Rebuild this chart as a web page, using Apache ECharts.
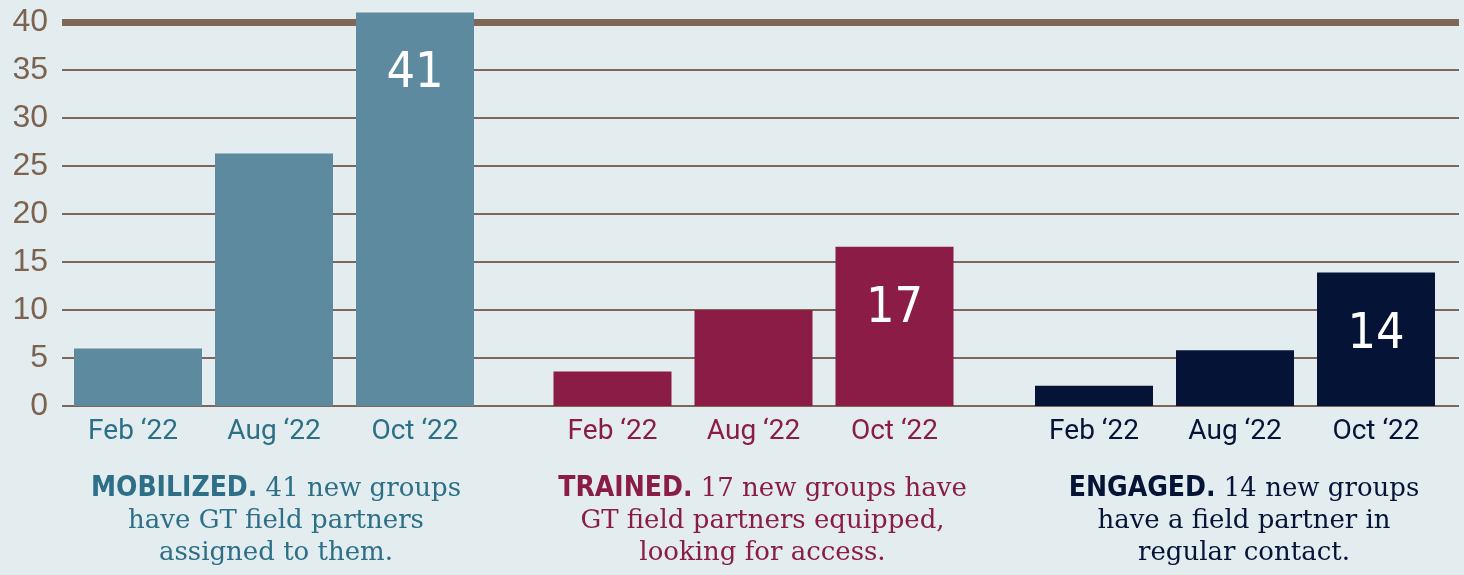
<!DOCTYPE html>
<html>
<head>
<meta charset="utf-8">
<script src="https://cdn.jsdelivr.net/npm/echarts@6/dist/echarts.min.js"></script>
<style>
  html, body { margin: 0; padding: 0; background: #e3ecef; }
  #chart { width: 1464px; height: 575px; }
</style>
</head>
<body>
<div id="chart"></div>
<script>
var months = ['Feb \u201822', 'Aug \u201822', 'Oct \u201822'];
var mobilized = [6, 26.3, 41];
var trained = [3.6, 10, 16.6];
var engaged = [2.1, 5.8, 13.9];
var totals = [41, 17, 14];
var yTicks = [0, 5, 10, 15, 20, 25, 30, 35, 40];

var captions = [
  '{h|MOBILIZED.} 41 new groups\nhave GT field partners\nassigned to them.',
  '{h|TRAINED.} 17 new groups have\nGT field partners equipped,\nlooking for access.',
  '{h|ENGAGED.} 14 new groups\nhave a field partner in\nregular contact.'
];
var colors = ['#5d8a9e', '#8a1c45', '#051337'];
var labelColors = ['#2c6f87', '#8a1c45', '#051337'];
var captionShift = [4, 18, 18];

var chart = echarts.init(document.getElementById('chart'));

var brown = '#7e6757';
var serif = '"DejaVu Serif", "Liberation Serif", serif';
var narrow = '"Liberation Sans Narrow", "DejaVu Sans Condensed", sans-serif';

function barAxis(i) {
  return {
    type: 'category',
    gridIndex: i + 1,
    data: months,
    axisLine: { show: false },
    axisTick: { show: false },
    axisLabel: {
      color: labelColors[i],
      fontSize: 28,
      fontFamily: 'Roboto, sans-serif',
      margin: 12
    },
    name: captions[i],
    nameLocation: 'middle',
    nameGap: 67,
    nameTextStyle: {
      color: labelColors[i],
      fontFamily: serif,
      fontSize: 26,
      lineHeight: 32,
      align: 'center',
      padding: [0, 0, 0, captionShift[i]],
      rich: {
        h: {
          fontFamily: narrow,
          fontWeight: 'bold',
          fontSize: 28,
          lineHeight: 32,
          color: labelColors[i]
        }
      }
    }
  };
}

function hiddenY(i) {
  return {
    type: 'value',
    gridIndex: i + 1,
    min: 0,
    max: 40,
    interval: 5,
    show: false
  };
}

var valueLabel = {
  show: true,
  position: 'insideTop',
  distance: 37,
  color: '#ffffff',
  fontFamily: narrow,
  fontSize: 50,
  formatter: function (p) {
    return totals[p.seriesIndex <= 1 ? 0 : p.seriesIndex - 1];
  }
};

function withLabel(arr) {
  return arr.map(function (v, k) {
    if (k === arr.length - 1) return { value: v, label: valueLabel };
    return v;
  });
}

var option = {
  backgroundColor: '#e3ecef',
  animation: false,
  grid: [
    { left: 62, right: 5, top: 22, bottom: 169 },
    { left: 62.5, width: 423, top: 22, bottom: 169 },
    { left: 542, width: 423, top: 22, bottom: 169 },
    { left: 1023.5, width: 423, top: 22, bottom: 169 }
  ],
  xAxis: [
    {
      type: 'category',
      gridIndex: 0,
      position: 'top',
      data: [''],
      axisLine: { show: true, onZero: false, lineStyle: { color: brown, width: 7, cap: 'butt' } },
      axisTick: { show: false },
      axisLabel: { show: false }
    },
    barAxis(0), barAxis(1), barAxis(2)
  ],
  yAxis: [
    {
      type: 'value',
      gridIndex: 0,
      min: yTicks[0],
      max: yTicks[yTicks.length - 1],
      interval: 5,
      axisLine: { show: false },
      axisTick: { show: false },
      axisLabel: {
        color: '#7b6350',
        fontSize: 32,
        fontFamily: '"Liberation Sans", Arial, sans-serif',
        margin: 14
      },
      splitLine: { show: true, lineStyle: { color: brown, width: 2 } }
    },
    hiddenY(0), hiddenY(1), hiddenY(2)
  ],
  series: [
    {
      // first bar of the first group is a little wider
      type: 'bar',
      xAxisIndex: 1, yAxisIndex: 1,
      barWidth: 128,
      barGap: '-100%',
      clip: false,
      z: 5,
      itemStyle: { color: colors[0] },
      data: [mobilized[0], '-', '-']
    },
    {
      type: 'bar',
      xAxisIndex: 1, yAxisIndex: 1,
      barWidth: 118,
      barGap: '-100%',
      clip: false,
      z: 5,
      itemStyle: { color: colors[0] },
      data: withLabel(['-', mobilized[1], mobilized[2]])
    },
    {
      type: 'bar',
      xAxisIndex: 2, yAxisIndex: 2,
      barWidth: 118,
      clip: false,
      z: 5,
      itemStyle: { color: colors[1] },
      data: withLabel(trained)
    },
    {
      type: 'bar',
      xAxisIndex: 3, yAxisIndex: 3,
      barWidth: 118,
      clip: false,
      z: 5,
      itemStyle: { color: colors[2] },
      data: withLabel(engaged)
    }
  ]
};

chart.setOption(option);
</script>
</body>
</html>
